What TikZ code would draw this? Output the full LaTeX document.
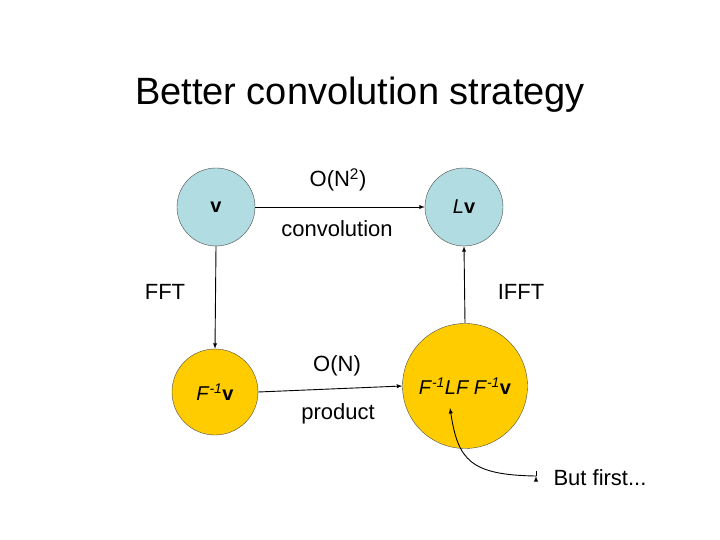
\documentclass[tikz,border=0pt]{standalone}
\usepackage{fontspec}
\setmainfont{Liberation Sans}
\begin{document}
\begin{tikzpicture}[x=1pt,y=-1pt,
  blue/.style={circle,draw=black!70,fill={rgb,255:red,176;green,220;blue,226},minimum size=78pt,inner sep=0pt,font=\fontsize{20}{24}\selectfont},
  yel/.style={circle,draw=black!70,fill={rgb,255:red,255;green,204;blue,0},inner sep=0pt,font=\fontsize{20}{24}\selectfont},
  lbl/.style={font=\fontsize{22}{26}\selectfont},
  arr/.style={-latex,line width=0.9pt}]
\useasboundingbox (0,0) rectangle (720,540);
\fill[white] (0,0) rectangle (720,540);
\node[font=\fontsize{38}{44}\selectfont] (title) at (360,95) {Better convolution strategy};
\node[blue] (v) at (216,207) {\textbf{v}};
\node[blue] (Lv) at (464,207) {\textit{L}\textbf{v}};
\node[yel,minimum size=86pt] (Fv) at (215,392) {\textit{F}\textsuperscript{\textit{-1}}\textbf{v}};
\node[yel,minimum size=125pt] (B) at (465,386) {\textit{F}\textsuperscript{\textit{-1}}\textit{LF F}\textsuperscript{\textit{-1}}\textbf{v}};
\draw[arr] (v.east) -- (Lv.west);
\draw[arr] (Fv.east) -- (B.west);
\draw[arr] (v.south) -- (Fv.north);
\draw[arr] (B.north) -- (Lv.south);
\node[lbl] (o1) at (338,180) {O(N\textsuperscript{2})};
\node[lbl] (c1) at (337,229) {convolution};
\node[lbl] (o2) at (337,366) {O(N)};
\node[lbl] (p1) at (338,414) {product};
\node[lbl] (fft) at (165,292) {FFT};
\node[lbl] (ifft) at (521,292) {IFFT};
\node[lbl,anchor=west] (bf) at (550,478) {But first...};
\coordinate (tip) at (450,408);
\draw[arr] (bf.west) ++(-14,-2) coordinate (s) -- ++(0,0);
\draw[arr] (s) .. controls (470,475) and (458,460) .. (tip);
\end{tikzpicture}
\end{document}
